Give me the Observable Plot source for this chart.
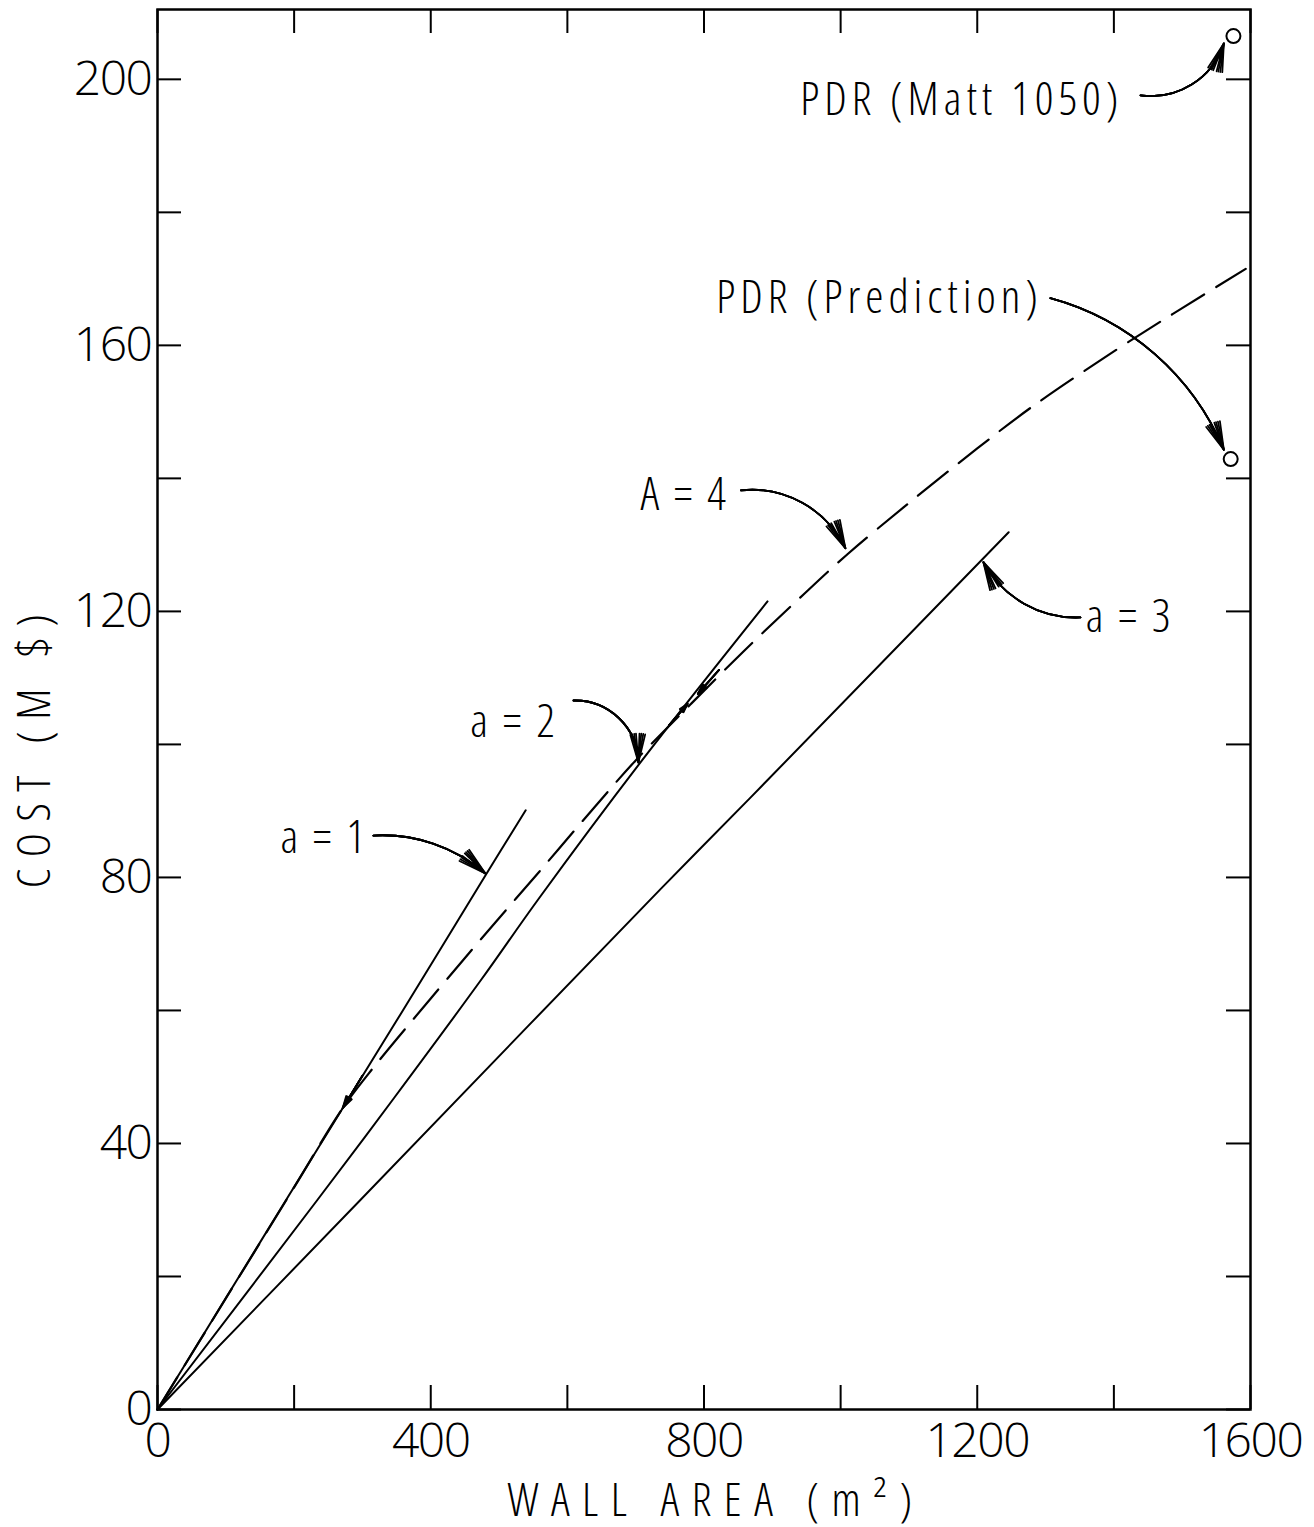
<!DOCTYPE html>
<html>
<head>
<meta charset="utf-8">
<script src="https://cdn.jsdelivr.net/npm/d3@7"></script>
<script src="https://cdn.jsdelivr.net/npm/@observablehq/plot@0.6"></script>
<style>
  body { margin: 0; background: #fff; }
  #chart svg { display: block; }
  #chart text { font-family: "Open Sans", "DejaVu Sans Condensed", sans-serif; font-weight: 300; font-stretch: 80%; }
</style>
</head>
<body>
<div id="chart"></div>
<script>
// Cost of the wall versus wall area for several aspect ratios
const areaA1 = [0, 190, 271, 337, 404, 480, 539];
const costA1 = [0, 31.8, 45.3, 56.3, 67.5, 80.3, 90.1];

const areaA2 = [0, 234, 346, 473, 558, 707, 893];
const costA2 = [0, 31.5, 46.8, 64.5, 76.8, 97.3, 121.5];

const areaA3 = [0, 297, 542, 736, 868, 1246];
const costA3 = [0, 31.5, 57.6, 78.2, 92.0, 131.9];

const areaA4 = [0, 100, 200, 271, 316, 400, 480, 560, 640, 700, 780, 860, 940, 1010, 1100, 1200, 1278, 1400, 1500, 1593];
const costA4 = [0, 16.7, 33.4, 45.3, 51.4, 61.8, 71.5, 81.0, 90.6, 97.6, 106.0, 114.2, 122.0, 128.6, 136.3, 144.5, 150.6, 159.1, 165.6, 171.5];

// Reference designs
const pdrNames = ["PDR (Matt 1050)", "PDR (Prediction)"];
const pdrArea = [1575, 1571];
const pdrCost = [206.5, 142.9];

// Axis ticks
const xLabelTicks = [0, 400, 800, 1200, 1600];
const xMinorTicks = [0, 200, 400, 600, 800, 1000, 1200, 1400, 1600];
const yLabelTicks = [0, 40, 80, 120, 160, 200];
const yMinorTicks = [0, 20, 40, 60, 80, 100, 120, 140, 160, 180, 200];

const toRows = (xs, ys) => xs.map((x, i) => ({x, y: ys[i]}));

// Annotation text, placed next to the curves they name
const labels = [
  {x: 941, y: 196.8, text: "PDR (Matt 1050)"},
  {x: 818, y: 167.1, text: "PDR (Prediction)"},
  {x: 707, y: 137.4, text: "A\u2009=\u20094"},
  {x: 458, y: 103.3, text: "a\u2009=\u20092"},
  {x: 180, y: 85.9, text: "a\u2009=\u20091"},
  {x: 1359, y: 119.1, text: "a\u2009=\u20093"}
];

// Curved leader arrows from each label to its curve or point
const leaders = [
  {x1: 1439, y1: 197.6, x2: 1561, y2: 205.4, bend: -40},
  {x1: 1307, y1: 167.1, x2: 1561, y2: 144.3, bend: 26},
  {x1: 854, y1: 138.2, x2: 1007, y2: 129.5, bend: 35},
  {x1: 609, y1: 106.6, x2: 704, y2: 97.3, bend: 45},
  {x1: 316, y1: 86.3, x2: 480, y2: 80.6, bend: 22},
  {x1: 1351, y1: 119.1, x2: 1209, y2: 127.4, bend: 32}
];

// Short arrowheads marking where A = 4 touches the straight lines
const touches = [
  {x1: 822, y1: 111.2, x2: 791, y2: 107.6},
  {x1: 749, y1: 102.9, x2: 776, y2: 106.1},
  {x1: 300, y1: 50.2, x2: 271, y2: 45.3}
];

// A filled-looking head: the same arrow drawn with narrowing head angles
const headAngles = [30, 22, 14, 7];

const leaderMarks = leaders.flatMap(d =>
  headAngles.map(a => Plot.arrow([d], {
    x1: "x1", y1: "y1", x2: "x2", y2: "y2",
    bend: d.bend, headAngle: a, headLength: 24, strokeWidth: 1.8, stroke: "#000"
  })));

const touchMarks = headAngles.map(a => Plot.arrow(touches, {
  x1: "x1", y1: "y1", x2: "x2", y2: "y2",
  headAngle: a, headLength: 20, strokeWidth: 1.8, stroke: "#000"
}));

const frameW = 1314 - 157 - 64;
const frameH = 1527 - 9 - 118;
const tickLen = 24;
const fmt = d => String(d);

const chart = Plot.plot({
  width: 1314,
  height: 1527,
  marginLeft: 157,
  marginRight: 64,
  marginTop: 9,
  marginBottom: 118,
  x: {domain: [0, 1600]},
  y: {domain: [0, 210.5]},
  style: {background: "#fff", color: "#000"},
  marks: [
    // inward ticks on all four sides
    Plot.tickX(xMinorTicks, {x: d => d, insetTop: frameH - tickLen, strokeWidth: 2, stroke: "#000"}),
    Plot.tickX(xMinorTicks, {x: d => d, insetBottom: frameH - tickLen, strokeWidth: 2, stroke: "#000"}),
    Plot.tickY(yMinorTicks, {y: d => d, insetRight: frameW - tickLen, strokeWidth: 2, stroke: "#000"}),
    Plot.tickY(yMinorTicks, {y: d => d, insetLeft: frameW - tickLen, strokeWidth: 2, stroke: "#000"}),
    Plot.frame({stroke: "#000", strokeWidth: 2.5}),
    // tick labels
    Plot.axisX(xLabelTicks, {anchor: "bottom", tickSize: 0, tickPadding: 13, fontSize: 48, tickFormat: fmt, label: null}),
    Plot.axisY(yLabelTicks, {anchor: "left", tickSize: 0, tickPadding: 6, fontSize: 48, tickFormat: fmt, label: null}),
    // axis titles
    Plot.text(["WALL AREA (m²)"], {frameAnchor: "bottom", dx: 12, dy: 106, fontSize: 46, text: d => d}),
    Plot.text(["COST (M $)"], {frameAnchor: "left", textAnchor: "middle", dx: -122, dy: 36, rotate: -90, fontSize: 46, text: d => d}),
    // curves
    Plot.line(toRows(areaA1, costA1), {x: "x", y: "y", stroke: "#000", strokeWidth: 2, curve: "catmull-rom"}),
    Plot.line(toRows(areaA2, costA2), {x: "x", y: "y", stroke: "#000", strokeWidth: 2, curve: "catmull-rom"}),
    Plot.line(toRows(areaA3, costA3), {x: "x", y: "y", stroke: "#000", strokeWidth: 2, curve: "catmull-rom"}),
    Plot.line(toRows(areaA4, costA4), {x: "x", y: "y", stroke: "#000", strokeWidth: 2.2, strokeDasharray: "38 14", curve: "catmull-rom"}),
    // reference designs
    Plot.dot(pdrNames.map((n, i) => ({n, x: pdrArea[i], y: pdrCost[i]})), {x: "x", y: "y", r: 7, stroke: "#000", strokeWidth: 2, fill: "#fff"}),
    ...leaderMarks,
    ...touchMarks,
    Plot.text(labels, {x: "x", y: "y", text: "text", textAnchor: "start", fontSize: 46})
  ]
});

// Hand-lettered spacing and width for the titles, labels and tick numbers
const titleSpacing = new Map([
  ["WALL AREA (m²)", "12.5px"],
  ["COST (M $)", "11.5px"]
]);
d3.select(chart).selectAll("text").each(function () {
  const t = this.textContent;
  if (titleSpacing.has(t)) {
    this.style.letterSpacing = titleSpacing.get(t);
  } else if (pdrNames.includes(t)) {
    this.style.letterSpacing = "5px";
  } else if (labels.some(l => l.text === t)) {
    this.style.letterSpacing = "3.5px";
  } else {
    this.style.letterSpacing = "-1.5px";
    this.style.fontStretch = "100%";
  }
});

document.getElementById("chart").appendChild(chart);
</script>
</body>
</html>
